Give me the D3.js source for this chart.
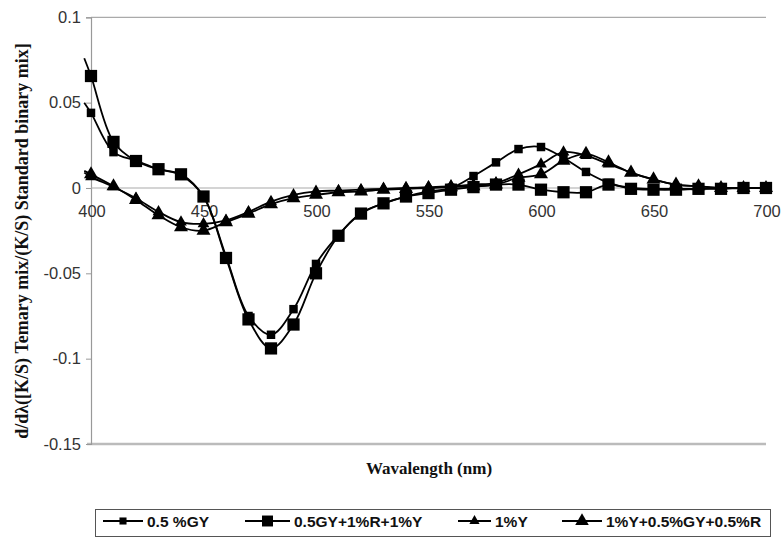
<html>
    <head>
        <style>
        body {
            margin: 0;
            background: white;
        }

        svg {
            display: block;
        }

        .tick-label {
            font-family: Arial, 'Liberation Sans', sans-serif;
            font-size: 16.5px;
            fill: #333;
        }

        .axis-title {
            font-family: 'Times New Roman', 'Liberation Serif', serif;
            font-weight: bold;
            fill: #111;
        }

        .legend-text {
            font-family: Arial, 'Liberation Sans', sans-serif;
            font-weight: bold;
            font-size: 15.5px;
            fill: #111;
        }
        </style>
    </head>
    <body>
        <svg width="782" height="538"></svg>

        <script src="https://d3js.org/d3.v7.min.js"></script>

        <script>

            // wavelengths (nm), one marker every 10 nm
            let waves = [400, 410, 420, 430, 440, 450, 460, 470, 480, 490, 500,
                         510, 520, 530, 540, 550, 560, 570, 580, 590, 600,
                         610, 620, 630, 640, 650, 660, 670, 680, 690, 700]

            // the smoothed lines start a little left of the y axis
            let leadWave = 397

            let gy = [0.044, 0.021, 0.016, 0.011, 0.0075, -0.005, -0.040, -0.075, -0.086, -0.071, -0.0445,
                      -0.0275, -0.0146, -0.009, -0.005, -0.002, 0.0, 0.007, 0.015, 0.0228, 0.024,
                      0.0176, 0.0094, 0.003, 0.0, -0.0005, -0.0005, -0.0005, 0.0, 0.0, 0.0]
            let gyLead = 0.050

            let gyRY = [0.0656, 0.027, 0.0158, 0.011, 0.008, -0.005, -0.041, -0.077, -0.094, -0.080, -0.050,
                        -0.028, -0.015, -0.009, -0.005, -0.003, -0.001, 0.0005, 0.002, 0.002, -0.001,
                        -0.0025, -0.0025, 0.002, -0.0005, -0.001, -0.001, -0.0005, -0.0005, 0.0, 0.0]
            let gyRYLead = 0.076

            let y1 = [0.0065, 0.0006, -0.006, -0.014, -0.020, -0.021, -0.019, -0.014, -0.008, -0.004, -0.002,
                      -0.0015, -0.001, -0.0005, 0.0, 0.0005, 0.001, 0.002, 0.003, 0.008, 0.014,
                      0.021, 0.019, 0.014, 0.009, 0.005, 0.002, 0.001, 0.0, 0.0, 0.0]
            let y1Lead = 0.009

            let yGyR = [0.008, 0.001, -0.007, -0.016, -0.023, -0.025, -0.020, -0.015, -0.0095, -0.006, -0.004,
                        -0.0025, -0.002, -0.001, -0.0005, 0.0, 0.0005, 0.001, 0.002, 0.006, 0.008,
                        0.016, 0.020, 0.015, 0.009, 0.005, 0.002, 0.001, 0.0, 0.0, 0.0]
            let yGyRLead = 0.010

            let xTicks = [400, 450, 500, 550, 600, 650, 700]
            let yTicks = [0.1, 0.05, 0, -0.05, -0.1, -0.15]

            let seriesNames = ["0.5 %GY", "0.5GY+1%R+1%Y", "1%Y", "1%Y+0.5%GY+0.5%R"]

            let series = [
                {name: seriesNames[0], values: gy, lead: gyLead, shape: d3.symbolSquare, size: 72, legendSize: 50},
                {name: seriesNames[1], values: gyRY, lead: gyRYLead, shape: d3.symbolSquare, size: 150, legendSize: 120},
                {name: seriesNames[2], values: y1, lead: y1Lead, shape: d3.symbolTriangle, size: 60, legendSize: 45},
                {name: seriesNames[3], values: yGyR, lead: yGyRLead, shape: d3.symbolTriangle, size: 85, legendSize: 80}
            ]

            let svg = d3.select("svg")

            let plotLeft = 91, plotRight = 766, plotTop = 17.3, plotBottom = 444

            let x = d3.scaleLinear()
                .domain([400, 700])
                .range([plotLeft, plotRight])

            let y = d3.scaleLinear()
                .domain([-0.15, 0.1])
                .range([plotBottom, plotTop])

            // plot frame
            svg.append("line")
                .attr("x1", plotLeft).attr("x2", plotRight)
                .attr("y1", plotTop).attr("y2", plotTop)
                .style("stroke", "#aaa").style("stroke-width", 1.2)

            svg.append("line")
                .attr("x1", plotLeft - 4).attr("x2", plotRight)
                .attr("y1", plotBottom).attr("y2", plotBottom)
                .style("stroke", "#bbb").style("stroke-width", 2.5)

            // y axis
            let yAxis = d3.axisLeft(y)
                .tickValues(yTicks)
                .tickSize(5)
                .tickFormat(d => String(+d.toFixed(2)))

            let yg = svg.append("g")
                .attr("transform", `translate(${plotLeft},0)`)
                .call(yAxis)

            yg.attr("font-family", null).attr("font-size", null)
            yg.select(".domain").style("stroke", "#999").style("stroke-width", 1.2)
            yg.selectAll(".tick line").style("stroke", "#999")
            yg.selectAll(".tick text")
                .attr("class", "tick-label")
                .attr("x", -10)

            // zero line with wavelength labels hanging below it
            svg.append("line")
                .attr("x1", plotLeft).attr("x2", plotRight)
                .attr("y1", y(0)).attr("y2", y(0))
                .style("stroke", "#aaa").style("stroke-width", 1.2)

            svg.append("g")
                .selectAll("text")
                .data(xTicks)
                .enter().append("text")
                .attr("class", "tick-label")
                .attr("x", d => x(d) + 1)
                .attr("y", y(0) + 29)
                .attr("text-anchor", "middle")
                .text(d => d)

            // axis titles
            svg.append("text")
                .attr("class", "axis-title")
                .attr("transform", `translate(28,241) rotate(-90)`)
                .attr("text-anchor", "middle")
                .style("font-size", "18px")
                .text("d/dλ([K/S) Temary mix/(K/S) Standard binary mix]")

            svg.append("text")
                .attr("class", "axis-title")
                .attr("x", 429)
                .attr("y", 474)
                .attr("text-anchor", "middle")
                .style("font-size", "17px")
                .text("Wavalength (nm)")

            // lines + markers
            let line = d3.line()
                .x(d => x(d[0]))
                .y(d => y(d[1]))
                .curve(d3.curveCatmullRom.alpha(0.5))

            series.forEach(s => {
                let pts = [[leadWave, s.lead]].concat(waves.map((w, i) => [w, s.values[i]]))

                svg.append("path")
                    .attr("d", line(pts))
                    .style("fill", "none")
                    .style("stroke", "black")
                    .style("stroke-width", 1.8)

                svg.append("g")
                    .selectAll("path")
                    .data(waves)
                    .enter().append("path")
                    .attr("d", d3.symbol().type(s.shape).size(s.size))
                    .attr("transform", (d, i) => `translate(${x(d)},${y(s.values[i])})`)
                    .style("fill", "black")
            })

            // legend
            let legend = svg.append("g")

            legend.append("rect")
                .attr("x", 95.5).attr("y", 509.5)
                .attr("width", 675).attr("height", 27)
                .style("fill", "white")
                .style("stroke", "#555")
                .style("stroke-width", 1)

            let legendX = [103, 245, 458, 562]
            let legendW = [40, 45, 33, 40]

            series.forEach((s, i) => {
                let g = legend.append("g")

                g.append("line")
                    .attr("x1", legendX[i]).attr("x2", legendX[i] + legendW[i])
                    .attr("y1", 521).attr("y2", 521)
                    .style("stroke", "black").style("stroke-width", 1.8)

                g.append("path")
                    .attr("d", d3.symbol().type(s.shape).size(s.legendSize))
                    .attr("transform", `translate(${legendX[i] + legendW[i] / 2},521)`)
                    .style("fill", "black")

                g.append("text")
                    .attr("class", "legend-text")
                    .attr("x", legendX[i] + legendW[i] + 4)
                    .attr("y", 526.5)
                    .text(s.name)
            })

        </script>
    </body>
</html>
